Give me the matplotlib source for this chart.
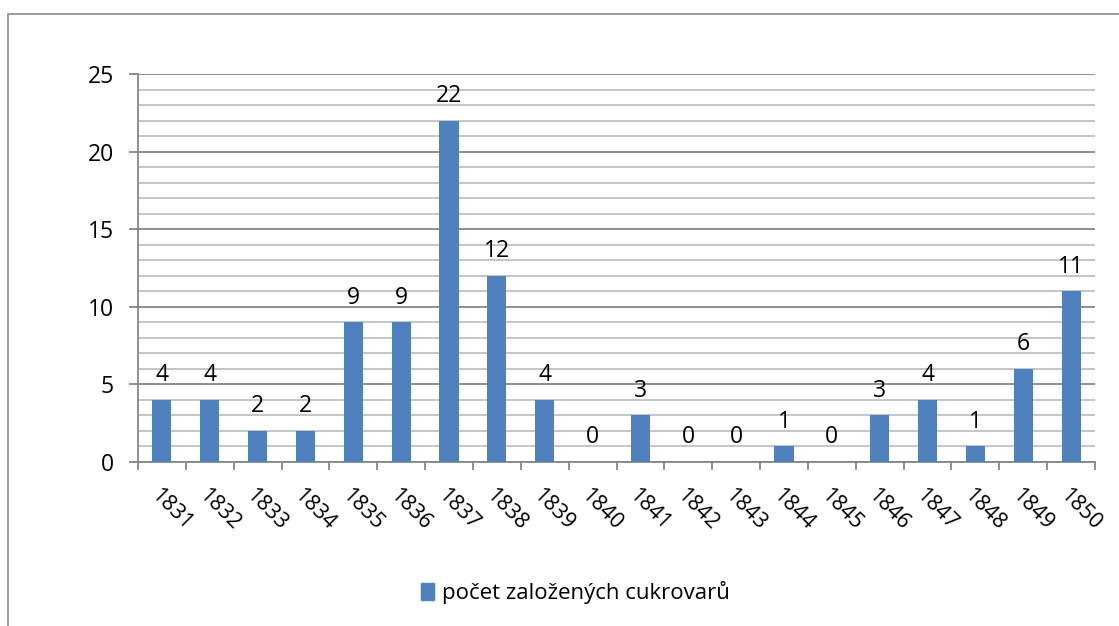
import matplotlib.pyplot as plt
from matplotlib.patches import Rectangle
from matplotlib.ticker import MultipleLocator

years = [str(y) for y in range(1831, 1851)]
counts = [4, 4, 2, 2, 9, 9, 22, 12, 4, 0, 3, 0, 0, 1, 0, 3, 4, 1, 6, 11]
series_name = "počet založených cukrovarů"

bar_color = "#4F81BD"
major_grid = "#868686"
minor_grid = "#C0C0C0"

plt.rcParams["font.family"] = ["Open Sans", "DejaVu Sans"]

fig = plt.figure(figsize=(11.19, 6.26), dpi=100)
fig.patch.set_facecolor("white")

# outer chart frame (runs off the right and bottom edges like the source)
fig.patches.append(Rectangle((8 / 1119, -0.05), 1.2, 1 - 14 / 626 + 0.05,
                             transform=fig.transFigure, fill=False,
                             edgecolor="#8C8C8C", linewidth=1.2))

ax = fig.add_axes([138 / 1119, 1 - 462 / 626, (1095 - 138) / 1119, (462 - 74) / 626])

x = list(range(len(years)))
ax.bar(x, counts, width=0.4, color=bar_color, zorder=3)

ax.set_xlim(-0.5, len(years) - 0.5)
ax.set_ylim(0, 25)

ax.yaxis.set_major_locator(MultipleLocator(5))
ax.yaxis.set_minor_locator(MultipleLocator(1))
ax.grid(True, which="major", axis="y", color=major_grid, linewidth=1.3, zorder=1)
ax.grid(True, which="minor", axis="y", color=minor_grid, linewidth=1.3, zorder=1)

for name, spine in ax.spines.items():
    if name in ("top", "right"):
        spine.set_visible(False)
    else:
        spine.set_color(major_grid)
        spine.set_linewidth(1.3)

ax.tick_params(axis="y", which="major", length=6.5, width=1.3, color=major_grid,
               labelsize=16.5, pad=11, labelcolor="black")
ax.tick_params(axis="y", which="minor", length=0)

# x ticks at category boundaries, labels rotated at category centres
ax.set_xticks([i - 0.5 for i in range(len(years) + 1)])
ax.set_xticklabels([])
ax.tick_params(axis="x", length=6, width=1.3, color=major_grid)
for i, yr in enumerate(years):
    ax.annotate(yr, (i, 0), xycoords="data", textcoords="offset points",
                xytext=(-6, -22), rotation=-45, rotation_mode="anchor",
                ha="left", va="center", fontsize=15.5, annotation_clip=False)

for i, v in enumerate(counts):
    ax.annotate(str(v), (i, v), textcoords="offset points", xytext=(0, 13.5),
                ha="center", va="baseline", fontsize=16.5)

fig.legend(handles=[Rectangle((0, 0), 1, 1, color=bar_color)], labels=[series_name],
           loc="center", bbox_to_anchor=(575 / 1119, 1 - 593 / 626), frameon=False,
           fontsize=16, handlelength=0.6, handleheight=0.8, handletextpad=0.35)

fig.savefig("out.png", dpi=100, facecolor="white")
